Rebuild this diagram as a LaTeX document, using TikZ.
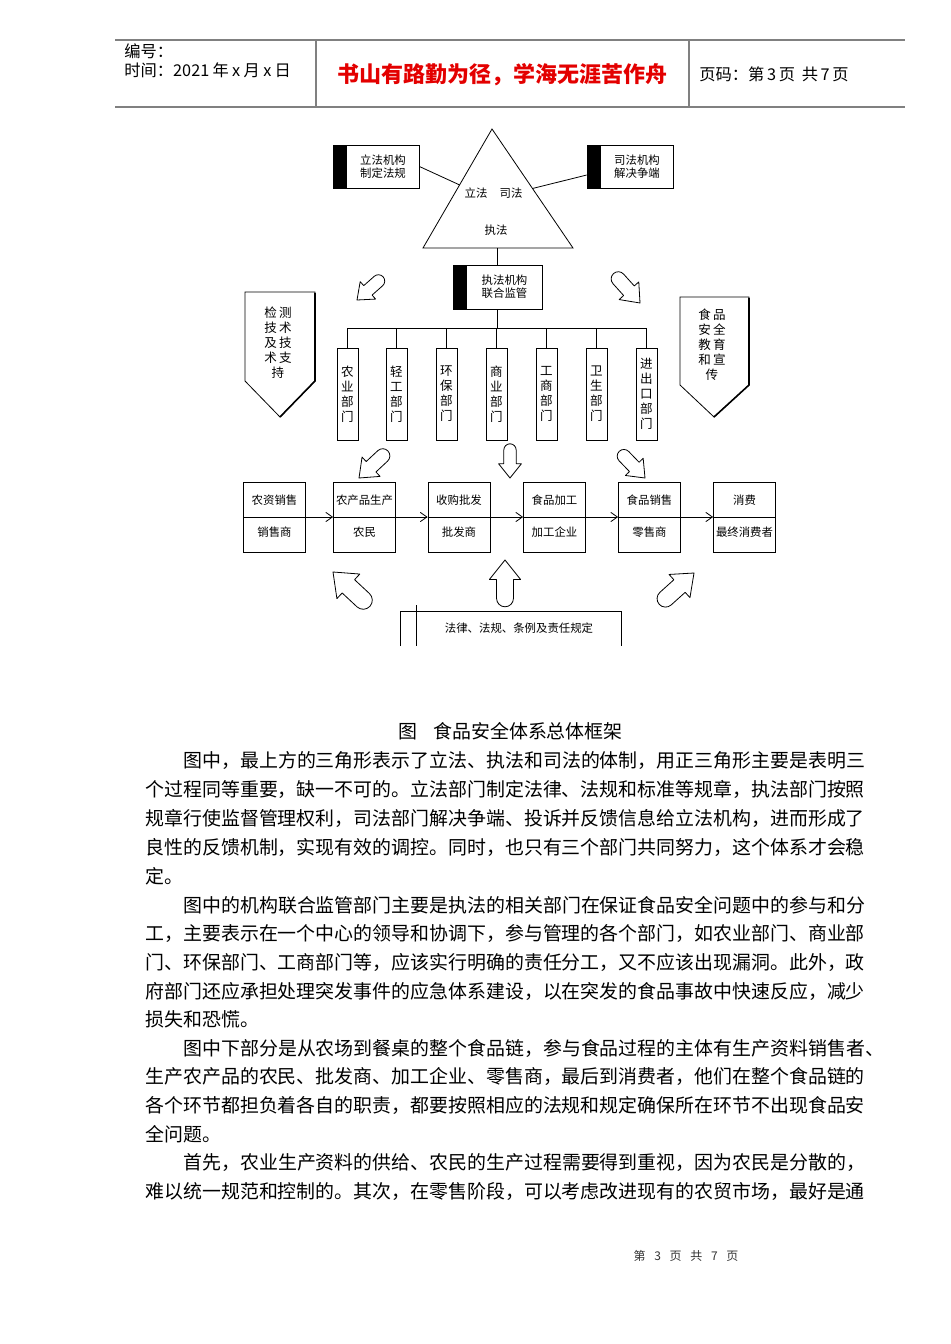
\documentclass[tikz,border=0pt]{standalone}
\usepackage{fontspec}
\setmainfont{Noto Sans CJK SC}
\usepackage{xcolor}
\usepackage{tikz}
\usetikzlibrary{arrows.meta,positioning,calc}
\XeTeXlinebreaklocale "zh"
\XeTeXlinebreakskip=0pt plus 1.5pt minus 0.3pt
\definecolor{rulegrey}{HTML}{808080}
\definecolor{mottored}{HTML}{E30000}
\definecolor{footgrey}{HTML}{333333}
\newcommand{\setfs}[1]{\fontsize{#1}{#1}\selectfont}
\newcommand{\labfont}{\fontsize{8.55}{9.75}\selectfont}
\newcommand{\deptfont}{\fontsize{9.4}{11.25}\selectfont}
\newcommand{\fullline}{\noindent\parfillskip=0pt\relax}

\begin{document}
\begin{tikzpicture}[x=0.75pt, y=-0.75pt, line width=0.6pt,
  hdr/.style={anchor=west, inner sep=0pt, font=\setfs{12.2}},
  body/.style={anchor=west, inner sep=0pt, font=\setfs{14.2}},
  para/.style={body, text width=545.25pt, align=justify},
  paraind/.style={body, text width=516.75pt, align=justify},
  lab/.style={inner sep=0pt, align=center, font=\labfont},
  agency/.style={draw, minimum width=64.5pt, minimum height=32.25pt, inner sep=0pt},
  dept/.style={draw, minimum width=15.75pt, minimum height=69pt, inner sep=0pt,
               align=center, font=\deptfont},
  penta/.style={inner sep=0pt, align=center, font=\deptfont},
  chainbox/.style={draw, minimum width=46.5pt, minimum height=52.5pt, inner sep=0pt},
  flow/.style={-{Straight Barb[length=5pt, width=7pt]}},
  hollowarr/.style={draw, fill=white, line join=round}]
\useasboundingbox (0,0) rectangle (950,1344);

% page header
\draw[rulegrey, line width=1.5pt] (115,40) -- (905,40);
\draw[rulegrey, line width=1.5pt] (115,107) -- (905,107);
\draw[rulegrey, line width=0.8pt] (316,40) -- (316,107);
\draw[rulegrey, line width=0.8pt] (689,40) -- (689,107);
\node[hdr] (serial) at (124,51) {编号：};
\node[hdr] (date) at (124,70) {时间：2021\hspace{2.5pt}年\hspace{2.5pt}x\hspace{2.5pt}月\hspace{2.5pt}x\hspace{2.5pt}日};
\node[inner sep=0pt, font=\setfs{16.5}\bfseries, text=mottored] (motto) at (502,75) {书山有路勤为径，学海无涯苦作舟};
\node[hdr] (pages) at (699,74) {页码：第\hspace{2pt}3\hspace{2pt}页\hspace{5pt}共\hspace{2pt}7\hspace{2pt}页};

% triangle of the three powers
\coordinate (apex) at (492,129);
\coordinate (tl) at (423,248);
\coordinate (tr) at (573,248);
\draw (apex) -- (tl) -- (tr) -- cycle;
\node[lab] (lifa) at (476,193) {立法};
\node[lab] (sifa) at (511,193) {司法};
\node[lab] (zhifa) at (496,230) {执法};

\node[agency] (legis) at (376,166.5) {};
\fill (legis.north west) rectangle ([xshift=10.5pt]legis.south west);
\node[lab] (legistxt) at ([xshift=5.25pt]legis.center) {立法机构\\制定法规};
\node[agency] (judic) at (630,166.5) {};
\fill (judic.north west) rectangle ([xshift=10.5pt]judic.south west);
\node[lab] (judictxt) at ([xshift=5.25pt]judic.center) {司法机构\\解决争端};
\draw (legis.east) -- ($(apex)!0.47!(tl)$);
\draw ([yshift=-6.4pt]judic.west) -- ($(apex)!0.5!(tr)$);

\node[agency, minimum width=66.75pt, minimum height=33pt] (enforce) at (497.5,287) {};
\fill (enforce.north west) rectangle ([xshift=10.5pt]enforce.south west);
\node[lab] (enforcetxt) at ([xshift=5.25pt]enforce.center) {执法机构\\联合监管};
\draw (enforce.north) -- (enforce.north |- tl);

% departments
\coordinate (bus) at (497.5,328);
\foreach \i/\x/\t in {1/347.5/{农\\业\\部\\门}, 2/396.5/{轻\\工\\部\\门},
    3/446.5/{环\\保\\部\\门}, 4/496.5/{商\\业\\部\\门}, 5/546.5/{工\\商\\部\\门},
    6/596.5/{卫\\生\\部\\门}, 7/646.5/{进\\出\\口\\部\\门}}
  \node[dept] (d\i) at (\x,394) {\t};
\draw (enforce.south) -- (bus);
\draw (d1.north |- bus) -- (d7.north |- bus);
\foreach \i in {1,...,7}
  \draw (d\i.north |- bus) -- (d\i.north);

% side banners
\draw (245,292) -- (315,292) -- (315,381) -- (280,417) -- (245,381) -- cycle;
\draw[line width=1.2pt] (315,293) -- (315,381) -- (280,417);
\node[penta] (detect) at (278,342.5) {检\,测\\技\,术\\及\,技\\术\,支\\持};
\draw (680,297) -- (749,297) -- (749,385) -- (714,417) -- (680,385) -- cycle;
\draw[line width=1.2pt] (749,298) -- (749,385) -- (714,417);
\node[penta] (educate) at (712,345) {食\,品\\安\,全\\教\,育\\和\,宣\\传};

% food chain
\foreach \i/\x/\stage/\actor in {1/274.5/农资销售/销售商, 2/364.5/农产品生产/农民,
    3/459/收购批发/批发商, 4/554.5/食品加工/加工企业, 5/649.5/食品销售/零售商,
    6/744.5/消费/最终消费者} {
  \node[chainbox] (c\i) at (\x,517) {};
  \node[lab] (c\i t) at (\x,500) {\stage};
  \node[lab] (c\i b) at (\x,532) {\actor};
  \draw (c\i.west) -- (c\i.east);
}
\foreach \i/\j in {1/2, 2/3, 3/4, 4/5, 5/6}
  \draw[flow] (c\i.east) -- (c\j.west);

% laws box, cut by the page
\draw (400,646) -- (400,611) -- (621,611) -- (621,646);
\draw (416,605) -- (416,646);
\node[lab] (lawtxt) at (519,628) {法律、法规、条例及责任规定};

% hollow block arrows: tip x/y, angle, scale
\foreach \x/\y/\a/\s in {357/300/221.5/0.97, 640/303/312/1.1, 359/478/223/1.1,
    510/478/270/0.95, 645/478/314/1.03, 333/572/137/1.4, 505/560/90/1.3, 694/573/42/1.3}
  \draw[hollowarr, shift={(\x,\y)}, rotate=\a, scale=\s]
    (0,0) -- (-15,12) -- (-15,6.5) -- (-29.5,6.5)
    arc[start angle=90, end angle=270, radius=6.5] -- (-15,-6.5) -- (-15,-12) -- cycle;

% caption and text
\node[body, anchor=center] (caption) at (510.5,731) {图\hspace{0.85em}食品安全体系总体框架};
\node[paraind] (p1a) at (183,760) {\fullline 图中，最上方的三角形表示了立法、执法和司法的体制，用正三角形主要是表明三};
\node[para] (p1b) at (145,789) {\fullline 个过程同等重要，缺一不可的。立法部门制定法律、法规和标准等规章，执法部门按照};
\node[para] (p1c) at (145,818) {\fullline 规章行使监督管理权利，司法部门解决争端、投诉并反馈信息给立法机构，进而形成了};
\node[para] (p1d) at (145,847) {\fullline 良性的反馈机制，实现有效的调控。同时，也只有三个部门共同努力，这个体系才会稳};
\node[body] (p1e) at (145,876) {定。};
\node[paraind] (p2a) at (183,905) {\fullline 图中的机构联合监管部门主要是执法的相关部门在保证食品安全问题中的参与和分};
\node[para] (p2b) at (145,933) {\fullline 工，主要表示在一个中心的领导和协调下，参与管理的各个部门，如农业部门、商业部};
\node[para] (p2c) at (145,962) {\fullline 门、环保部门、工商部门等，应该实行明确的责任分工，又不应该出现漏洞。此外，政};
\node[para] (p2d) at (145,991) {\fullline 府部门还应承担处理突发事件的应急体系建设，以在突发的食品事故中快速反应，减少};
\node[body] (p2e) at (145,1019) {损失和恐慌。};
\node[paraind] (p3a) at (183,1048) {\fullline 图中下部分是从农场到餐桌的整个食品链，参与食品过程的主体有生产资料销售者\rlap{、}};
\node[para] (p3b) at (145,1076) {\fullline 生产农产品的农民、批发商、加工企业、零售商，最后到消费者，他们在整个食品链的};
\node[para] (p3c) at (145,1105) {\fullline 各个环节都担负着各自的职责，都要按照相应的法规和规定确保所在环节不出现食品安};
\node[body] (p3d) at (145,1134) {全问题。};
\node[paraind] (p4a) at (183,1163) {\fullline 首先，农业生产资料的供给、农民的生产过程需要得到重视，因为农民是分散的，};
\node[para] (p4b) at (145,1191) {\fullline 难以统一规范和控制的。其次，在零售阶段，可以考虑改进现有的农贸市场，最好是通};

% page footer
\node[inner sep=0pt, font=\setfs{9}, text=footgrey] (pageno) at (686,1256)
  {第\hspace{6.5pt}3\hspace{6.5pt}页\hspace{6.5pt}共\hspace{6.5pt}7\hspace{6.5pt}页};
\end{tikzpicture}
\end{document}
